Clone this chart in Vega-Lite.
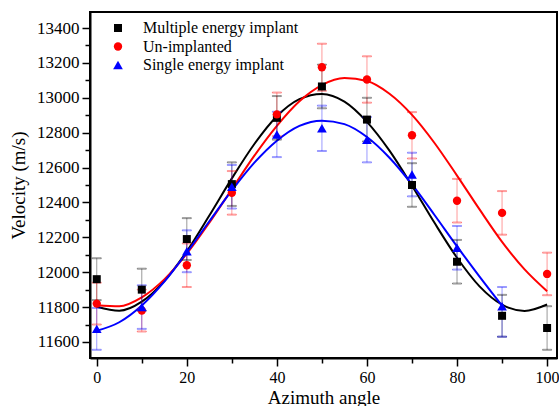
{
  "$schema": "https://vega.github.io/schema/vega-lite/v6.json",
  "width": 467,
  "height": 346,
  "autosize": {"type": "none"},
  "padding": {"left": 90, "top": 12, "right": 2, "bottom": 48},
  "background": "white",
  "config": {
    "view": {"stroke": "black", "strokeWidth": 2},
    "axis": {
      "labelFont": "Liberation Serif", "labelFontSize": 17, "labelColor": "black",
      "titleFont": "Liberation Serif", "titleFontSize": 19, "titleFontWeight": "normal", "titleColor": "black",
      "domainColor": "black", "domainWidth": 2, "tickColor": "black", "tickWidth": 1.5, "grid": false
    },
    "legend": {"labelFont": "Liberation Serif", "labelFontSize": 16, "labelColor": "black"}
  },
  "datasets": {
    "pts": [
      {"series": "Multiple energy implant", "az": 0, "v": 11960, "lo": 11840, "hi": 12080},
      {"series": "Multiple energy implant", "az": 10, "v": 11900, "lo": 11780, "hi": 12020},
      {"series": "Multiple energy implant", "az": 20, "v": 12190, "lo": 12070, "hi": 12310},
      {"series": "Multiple energy implant", "az": 30, "v": 12505, "lo": 12380, "hi": 12630},
      {"series": "Multiple energy implant", "az": 40, "v": 12885, "lo": 12760, "hi": 13010},
      {"series": "Multiple energy implant", "az": 50, "v": 13065, "lo": 12940, "hi": 13190},
      {"series": "Multiple energy implant", "az": 60, "v": 12875, "lo": 12750, "hi": 13000},
      {"series": "Multiple energy implant", "az": 70, "v": 12500, "lo": 12375, "hi": 12625},
      {"series": "Multiple energy implant", "az": 80, "v": 12060, "lo": 11935, "hi": 12185},
      {"series": "Multiple energy implant", "az": 90, "v": 11750, "lo": 11630, "hi": 11870},
      {"series": "Multiple energy implant", "az": 100, "v": 11680, "lo": 11555, "hi": 11805},
      {"series": "Un-implanted", "az": 0, "v": 11820, "lo": 11700, "hi": 11940},
      {"series": "Un-implanted", "az": 10, "v": 11780, "lo": 11660, "hi": 11900},
      {"series": "Un-implanted", "az": 20, "v": 12040, "lo": 11915, "hi": 12165},
      {"series": "Un-implanted", "az": 30, "v": 12455, "lo": 12330, "hi": 12580},
      {"series": "Un-implanted", "az": 40, "v": 12905, "lo": 12780, "hi": 13030},
      {"series": "Un-implanted", "az": 50, "v": 13175, "lo": 13040, "hi": 13310},
      {"series": "Un-implanted", "az": 60, "v": 13105, "lo": 12972, "hi": 13238},
      {"series": "Un-implanted", "az": 70, "v": 12785, "lo": 12652, "hi": 12918},
      {"series": "Un-implanted", "az": 80, "v": 12410, "lo": 12285, "hi": 12535},
      {"series": "Un-implanted", "az": 90, "v": 12340, "lo": 12215, "hi": 12465},
      {"series": "Un-implanted", "az": 100, "v": 11990, "lo": 11868, "hi": 12112},
      {"series": "Single energy implant", "az": 0, "v": 11675, "lo": 11555, "hi": 11795},
      {"series": "Single energy implant", "az": 10, "v": 11800, "lo": 11675, "hi": 11925},
      {"series": "Single energy implant", "az": 20, "v": 12120, "lo": 12000, "hi": 12240},
      {"series": "Single energy implant", "az": 30, "v": 12490, "lo": 12365, "hi": 12615},
      {"series": "Single energy implant", "az": 40, "v": 12790, "lo": 12660, "hi": 12920},
      {"series": "Single energy implant", "az": 50, "v": 12825, "lo": 12695, "hi": 12955},
      {"series": "Single energy implant", "az": 60, "v": 12760, "lo": 12630, "hi": 12890},
      {"series": "Single energy implant", "az": 70, "v": 12560, "lo": 12435, "hi": 12685},
      {"series": "Single energy implant", "az": 80, "v": 12140, "lo": 12015, "hi": 12265},
      {"series": "Single energy implant", "az": 90, "v": 11805, "lo": 11630, "hi": 11915}
    ],
    "fit": [
      {"series": "Multiple energy implant", "az": 0, "v": 11802},
      {"series": "Multiple energy implant", "az": 5, "v": 11779},
      {"series": "Multiple energy implant", "az": 10, "v": 11831},
      {"series": "Multiple energy implant", "az": 15, "v": 11949},
      {"series": "Multiple energy implant", "az": 20, "v": 12120},
      {"series": "Multiple energy implant", "az": 25, "v": 12325},
      {"series": "Multiple energy implant", "az": 30, "v": 12538},
      {"series": "Multiple energy implant", "az": 35, "v": 12735},
      {"series": "Multiple energy implant", "az": 40, "v": 12894},
      {"series": "Multiple energy implant", "az": 45, "v": 12992},
      {"series": "Multiple energy implant", "az": 50, "v": 13022},
      {"series": "Multiple energy implant", "az": 55, "v": 12978},
      {"series": "Multiple energy implant", "az": 60, "v": 12862},
      {"series": "Multiple energy implant", "az": 65, "v": 12697},
      {"series": "Multiple energy implant", "az": 70, "v": 12496},
      {"series": "Multiple energy implant", "az": 75, "v": 12283},
      {"series": "Multiple energy implant", "az": 80, "v": 12083},
      {"series": "Multiple energy implant", "az": 85, "v": 11919},
      {"series": "Multiple energy implant", "az": 90, "v": 11814},
      {"series": "Multiple energy implant", "az": 95, "v": 11778},
      {"series": "Multiple energy implant", "az": 100, "v": 11815},
      {"series": "Un-implanted", "az": 0, "v": 11811},
      {"series": "Un-implanted", "az": 5, "v": 11805},
      {"series": "Un-implanted", "az": 10, "v": 11856},
      {"series": "Un-implanted", "az": 15, "v": 11959},
      {"series": "Un-implanted", "az": 20, "v": 12106},
      {"series": "Un-implanted", "az": 25, "v": 12284},
      {"series": "Un-implanted", "az": 30, "v": 12476},
      {"series": "Un-implanted", "az": 35, "v": 12668},
      {"series": "Un-implanted", "az": 40, "v": 12839},
      {"series": "Un-implanted", "az": 45, "v": 12980},
      {"series": "Un-implanted", "az": 50, "v": 13073},
      {"series": "Un-implanted", "az": 55, "v": 13113},
      {"series": "Un-implanted", "az": 60, "v": 13096},
      {"series": "Un-implanted", "az": 65, "v": 13023},
      {"series": "Un-implanted", "az": 70, "v": 12902},
      {"series": "Un-implanted", "az": 75, "v": 12741},
      {"series": "Un-implanted", "az": 80, "v": 12554},
      {"series": "Un-implanted", "az": 85, "v": 12360},
      {"series": "Un-implanted", "az": 90, "v": 12174},
      {"series": "Un-implanted", "az": 95, "v": 12016},
      {"series": "Un-implanted", "az": 100, "v": 11891},
      {"series": "Single energy implant", "az": 0, "v": 11664},
      {"series": "Single energy implant", "az": 5, "v": 11713},
      {"series": "Single energy implant", "az": 10, "v": 11809},
      {"series": "Single energy implant", "az": 15, "v": 11946},
      {"series": "Single energy implant", "az": 20, "v": 12113},
      {"series": "Single energy implant", "az": 25, "v": 12292},
      {"series": "Single energy implant", "az": 30, "v": 12469},
      {"series": "Single energy implant", "az": 35, "v": 12628},
      {"series": "Single energy implant", "az": 40, "v": 12754},
      {"series": "Single energy implant", "az": 45, "v": 12839},
      {"series": "Single energy implant", "az": 50, "v": 12869},
      {"series": "Single energy implant", "az": 55, "v": 12849},
      {"series": "Single energy implant", "az": 60, "v": 12775},
      {"series": "Single energy implant", "az": 65, "v": 12656},
      {"series": "Single energy implant", "az": 70, "v": 12503},
      {"series": "Single energy implant", "az": 75, "v": 12328},
      {"series": "Single energy implant", "az": 80, "v": 12148},
      {"series": "Single energy implant", "az": 85, "v": 11975},
      {"series": "Single energy implant", "az": 90, "v": 11808}
    ]
  },
  "encoding": {
    "x": {
      "field": "az", "type": "quantitative",
      "scale": {"domain": [-1.5, 102.2], "nice": false, "zero": false},
      "axis": {
        "title": "Azimuth angle", "values": [0, 10, 20, 30, 40, 50, 60, 70, 80, 90, 100],
        "labelFontSize": 16,
        "labelExpr": "datum.value % 20 === 0 ? datum.label : ''",
        "tickSize": {"condition": {"test": "datum.value % 20 === 0", "value": 8}, "value": 5},
        "labelPadding": 3, "titlePadding": 3, "labelFlush": false
      }
    },
    "y": {
      "type": "quantitative",
      "scale": {"domain": [11508, 13492], "nice": false, "zero": false},
      "axis": {
        "title": "Velocity (m/s)",
        "values": [11600, 11700, 11800, 11900, 12000, 12100, 12200, 12300, 12400, 12500, 12600, 12700, 12800, 12900, 13000, 13100, 13200, 13300, 13400],
        "labelExpr": "datum.value % 200 === 0 ? datum.label : ''",
        "format": "d",
        "tickSize": {"condition": {"test": "datum.value % 200 === 0", "value": 8}, "value": 5},
        "labelPadding": 3, "titlePadding": 8
      }
    }
  },
  "layer": [
    {
      "data": {"name": "fit"},
      "mark": {"type": "line", "interpolate": "monotone", "strokeWidth": 2},
      "encoding": {
        "y": {"field": "v"},
        "stroke": {"field": "series", "type": "nominal",
          "scale": {"domain": ["Un-implanted", "Multiple energy implant", "Single energy implant"], "range": ["#ff0000", "#000000", "#0000ff"]},
          "legend": null}
      }
    },
    {
      "data": {"name": "pts"},
      "mark": {"type": "rule", "opacity": 0.4, "strokeWidth": 1},
      "encoding": {"y": {"field": "lo"}, "y2": {"field": "hi"}, "stroke": {"field": "series", "type": "nominal", "legend": null}}
    },
    {
      "data": {"name": "pts"},
      "mark": {"type": "tick", "orient": "horizontal", "size": 9, "thickness": 1, "opacity": 0.4, "filled": false},
      "encoding": {"y": {"field": "lo"}, "stroke": {"field": "series", "type": "nominal", "legend": null}}
    },
    {
      "data": {"name": "pts"},
      "mark": {"type": "tick", "orient": "horizontal", "size": 9, "thickness": 1, "opacity": 0.4, "filled": false},
      "encoding": {"y": {"field": "hi"}, "stroke": {"field": "series", "type": "nominal", "legend": null}}
    },
    {
      "data": {"name": "pts"},
      "mark": {"type": "point", "filled": true, "opacity": 1},
      "encoding": {
        "y": {"field": "v"},
        "color": {"field": "series", "type": "nominal",
          "scale": {"domain": ["Multiple energy implant", "Un-implanted", "Single energy implant"], "range": ["#000000", "#ff0000", "#0000ff"]},
          "legend": {"title": null, "orient": "none", "legendX": 20, "legendY": 8, "rowPadding": 2.5, "labelOffset": 17}},
        "shape": {
          "field": "series", "type": "nominal",
          "scale": {"domain": ["Multiple energy implant", "Un-implanted", "Single energy implant"], "range": ["square", "circle", "triangle-up"]}
        },
        "size": {
          "field": "series", "type": "nominal",
          "scale": {"type": "ordinal", "domain": ["Multiple energy implant", "Un-implanted", "Single energy implant"], "range": [64, 70, 95]}
        }
      }
    }
  ]
}
